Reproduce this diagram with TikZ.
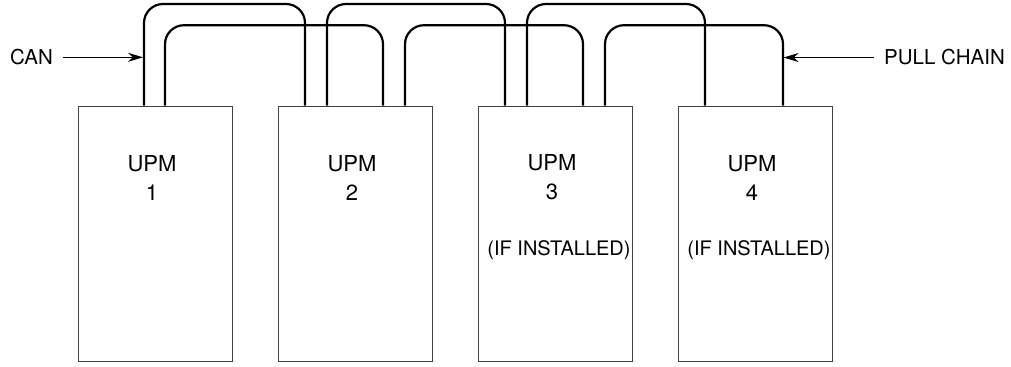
\documentclass[tikz,border=0pt]{standalone}
\usepackage{fontspec}
\setmainfont{TeX Gyre Heros}
\usetikzlibrary{positioning,arrows.meta,calc}
\tikzset{
  upm/.style={draw=black!75, line width=0.5pt, minimum width=77pt,
              minimum height=127.5pt, inner sep=0pt},
  wire/.style={line width=1.1pt, rounded corners=9.5pt},
  ptr/.style={-{Stealth[length=7.5pt,width=4.5pt]}, line width=0.5pt},
  upmlbl/.style={font=\fontsize{11}{14.5}\selectfont, align=center, inner sep=0pt},
  instlbl/.style={font=\fontsize{10}{12}\selectfont, inner sep=0pt},
  txt/.style={font=\fontsize{10.25}{12}\selectfont, inner sep=5pt},
}

\begin{document}
\begin{tikzpicture}[x=0.5pt, y=-0.5pt]
  \useasboundingbox (0,0) rectangle (1011,366);
  % power modules
  \foreach \i/\x in {1/155,2/355,3/555,4/755}
    \node[upm] (upm\i) at (\x,233.5) {};
  \foreach \i in {1,...,4}
    \node[upmlbl] (lbl\i) at ($(upm\i.north)+(-3,72)$) {UPM\\\i};
  \node[instlbl] (inst3) at ($(upm3.north)+(4,145)$) {(IF INSTALLED)};
  \node[instlbl] (inst4) at ($(upm4.north)+(4,145)$) {(IF INSTALLED)};
  % CAN loop (outer) and pull chain (inner)
  \draw[wire] ($(upm1.north)+(-11,0)$) -- ++(0,-101.5) -| ($(upm2.north)+(-50,0)$);
  \draw[wire] ($(upm1.north)+(10,0)$) -- ++(0,-80.3) -| ($(upm2.north)+(28,0)$);
  \draw[wire] ($(upm2.north)+(-28,0)$) -- ++(0,-101.5) -| ($(upm3.north)+(-50,0)$);
  \draw[wire] ($(upm2.north)+(50,0)$) -- ++(0,-80.3) -| ($(upm3.north)+(28,0)$);
  \draw[wire] ($(upm3.north)+(-28,0)$) -- ++(0,-101.5) -| ($(upm4.north)+(-50,0)$);
  \draw[wire] ($(upm3.north)+(50,0)$) -- ++(0,-80.3) -| ($(upm4.north)+(28,0)$);
  % callouts
  \node[txt] (can) at (31.5,57.3) {CAN};
  \coordinate (canend) at (143,57.3);
  \draw[ptr] (can) -- (canend);
  \node[txt] (pull) at (944.5,57.5) {PULL CHAIN};
  \coordinate (pullend) at (783.6,57.5);
  \draw[ptr] (pull) -- (pullend);
\end{tikzpicture}
\end{document}
